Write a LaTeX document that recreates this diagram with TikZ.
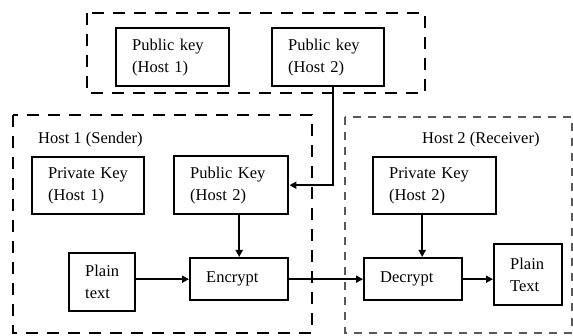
\documentclass[tikz,border=0pt]{standalone}
\usepackage{fontspec}
\setmainfont{Liberation Serif}
\usetikzlibrary{arrows.meta}
\tikzset{
	keybox/.style={
		draw,
		line width=2.4pt,
		anchor=north west,
		align=left,
		inner xsep=16pt,
		inner ysep=0pt,
		font=\fontsize{16.5}{22}\selectfont
	},
	hostframe/.style={
		draw,
		line width=2.4pt,
		dash pattern=on 12pt off 9pt
	},
	flow/.style={
		draw,
		line width=1.8pt,
		-{Triangle[length=7pt,width=7pt]}
	},
	hostlabel/.style={
		anchor=west,
		inner sep=0pt,
		font=\fontsize{16.5}{22}\selectfont
	}
}
\begin{document}
\begin{tikzpicture}[x=1pt,y=-1pt]
	\useasboundingbox (0,0) rectangle (573,336);
	%%%%%%%% PUBLIC KEYS
	\draw[hostframe] (87,13) rectangle (425,93);
	\node[keybox, text width=81pt, minimum height=58pt] (pubkeyA) at (115,27) {Public key\\(Host 1)};
	\node[keybox, text width=80pt, minimum height=58pt] (pubkeyB) at (271,27) {Public key\\(Host 2)};
	%%%%%%%% SENDER
	\draw[hostframe] (13,115) rectangle (312,333);
	\node[hostlabel] (senderlabel) at (38,140) {Host 1 (Sender)};
	\node[keybox, text width=80pt, minimum height=57pt] (privA) at (31,156) {Private Key\\(Host 1)};
	\node[keybox, text width=82pt, minimum height=58pt] (pubB) at (173,155) {Public Key\\(Host 2)};
	\node[keybox, text width=34pt, minimum height=58pt] (plainA) at (68,252) {Plain\\text};
	\node[keybox, text width=66pt, minimum height=42pt] (encrypt) at (189,257) {Encrypt};
	%%%%%%%% RECEIVER
	\draw[hostframe, line width=1.6pt, black!65, dash pattern=on 8pt off 7pt] (345,117) rectangle (572,333);
	\node[hostlabel] (receiverlabel) at (422,140) {Host 2 (Receiver)};
	\node[keybox, text width=91pt, minimum height=57pt] (privB) at (372,156) {Private Key\\(Host 2)};
	\node[keybox, text width=66pt, minimum height=42pt] (decrypt) at (363,257) {Decrypt};
	\node[keybox, text width=36pt, minimum height=61pt] (plainB) at (493,243) {Plain\\Text};
	%%%%%%%% ARROWS
	\draw[flow] ([xshift=5pt]pubkeyB.south) |- (pubB.east);
	\draw[flow] (encrypt.north |- pubB.south) -- (encrypt.north);
	\draw[flow] (plainA.east |- encrypt.west) -- (encrypt.west);
	\draw[flow] (encrypt.east) -- (decrypt.west);
	\draw[flow] ([xshift=9pt]decrypt.north |- privB.south) -- ([xshift=9pt]decrypt.north);
	\draw[flow] (decrypt.east) -- (decrypt.east -| plainB.west);
\end{tikzpicture}
\end{document}
